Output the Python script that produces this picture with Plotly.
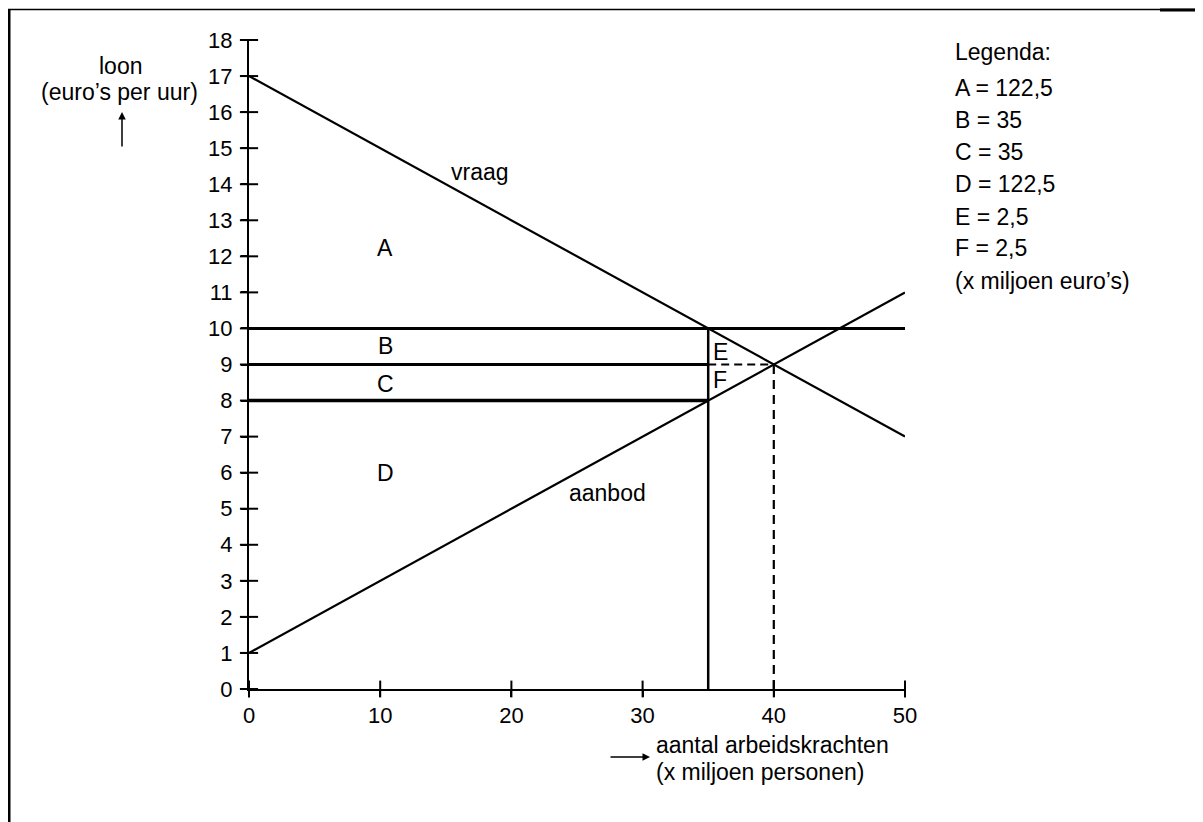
import plotly.graph_objects as go

# --- data ---
x_ticks = [0, 10, 20, 30, 40, 50]
y_ticks = list(range(0, 19))

vraag_x = [0, 50]
vraag_y = [17, 7]
aanbod_x = [0, 50]
aanbod_y = [1, 11]

# horizontal wage lines (solid)
loon10_x = [0, 50]
loon10_y = [10, 10]
loon9_x = [0, 35]
loon9_y = [9, 9]
loon8_x = [0, 35]
loon8_y = [8, 8]
# vertical at 35 (solid)
q35_x = [35, 35]
q35_y = [0, 10]
# equilibrium guide lines (dashed)
eq_h_x = [35, 40]
eq_h_y = [9, 9]
eq_v_x = [40, 40]
eq_v_y = [0, 9]

legend_names = ['A', 'B', 'C', 'D', 'E', 'F']
legend_values = [122.5, 35, 35, 122.5, 2.5, 2.5]

FONT = "Liberation Sans, Arial, sans-serif"
OFF = 8  # page body margin
W, H = 1203 - OFF, 822 - OFF
L, R, T, B = 249 - OFF, 298, 40 - OFF, 133
PW, PH = W - L - R, H - T - B


def px(xp):
    # screen pixel -> paper x
    return (xp - OFF - L) / PW


def py(yp):
    # screen pixel -> paper y
    return (H - B - (yp - OFF)) / PH


def fmt(v):
    return f"{v:g}".replace('.', ',')


fig = go.Figure()

line_style = dict(color='black', width=2.2)
fig.add_trace(go.Scatter(x=vraag_x, y=vraag_y, mode='lines', line=line_style, cliponaxis=False))
fig.add_trace(go.Scatter(x=aanbod_x, y=aanbod_y, mode='lines', line=line_style, cliponaxis=False))
fig.add_trace(go.Scatter(x=loon10_x, y=loon10_y, mode='lines', line=dict(color='black', width=3), cliponaxis=False))
fig.add_trace(go.Scatter(x=loon9_x, y=loon9_y, mode='lines', line=dict(color='black', width=3), cliponaxis=False))
fig.add_trace(go.Scatter(x=loon8_x, y=loon8_y, mode='lines', line=dict(color='black', width=3.5), cliponaxis=False))
fig.add_trace(go.Scatter(x=q35_x, y=q35_y, mode='lines', line=dict(color='black', width=2.5), cliponaxis=False))
fig.add_trace(go.Scatter(x=eq_h_x, y=eq_h_y, mode='lines', line=dict(color='black', width=2.2, dash='8px,5px'), cliponaxis=False))
fig.add_trace(go.Scatter(x=eq_v_x, y=eq_v_y, mode='lines', line=dict(color='black', width=2.2, dash='9px,6px'), cliponaxis=False))

# ticks crossing the axes
fig.add_trace(go.Scatter(
    x=[0] * len(y_ticks), y=y_ticks, mode='markers', cliponaxis=False,
    marker=dict(symbol='line-ew', size=13, line=dict(color='black', width=2))
))
fig.add_trace(go.Scatter(
    x=x_ticks, y=[0] * len(x_ticks), mode='markers', cliponaxis=False,
    marker=dict(symbol='line-ns', size=12, line=dict(color='black', width=2))
))

annotations = []
txt = dict(size=23, color='black', family=FONT)

# labels inside the chart
for text, x, y in [('vraag', 17.6, 14.35), ('aanbod', 27.3, 5.44),
                   ('A', 10.4, 12.24), ('B', 10.4, 9.52), ('C', 10.4, 8.47),
                   ('D', 10.4, 6.0), ('E', 35.9, 9.35), ('F', 35.9, 8.58)]:
    annotations.append(dict(x=x, y=y, xref='x', yref='y', text=text, showarrow=False,
                            font=txt, xanchor='center', yanchor='middle'))

# legend block
legend_lines = ['Legenda:'] + [f"{n} = {fmt(v)}" for n, v in zip(legend_names, legend_values)] + ['(x miljoen euro’s)']
legend_y = [52, 88, 120, 152, 184, 217, 248, 281]
for line, yp in zip(legend_lines, legend_y):
    annotations.append(dict(x=px(953), y=py(yp), xref='paper', yref='paper', text=line,
                            showarrow=False, font=txt, xanchor='left', yanchor='middle'))

# y-axis title
annotations.append(dict(x=px(120), y=py(66), xref='paper', yref='paper', text='loon',
                        showarrow=False, font=txt, xanchor='center', yanchor='middle'))
annotations.append(dict(x=px(119), y=py(92), xref='paper', yref='paper', text='(euro’s per uur)',
                        showarrow=False, font=txt, xanchor='center', yanchor='middle'))
annotations.append(dict(x=px(122), y=py(112), xref='paper', yref='paper', text='',
                        showarrow=True, ax=0, ay=36, arrowhead=2, arrowsize=1, arrowwidth=1.5,
                        arrowcolor='black'))

# x-axis title
annotations.append(dict(x=px(654), y=py(745), xref='paper', yref='paper', text='aantal arbeidskrachten',
                        showarrow=False, font=txt, xanchor='left', yanchor='middle'))
annotations.append(dict(x=px(654), y=py(772), xref='paper', yref='paper', text='(x miljoen personen)',
                        showarrow=False, font=txt, xanchor='left', yanchor='middle'))
annotations.append(dict(x=px(650), y=py(757), xref='paper', yref='paper', text='',
                        showarrow=True, ax=-41, ay=0, arrowhead=2, arrowsize=1, arrowwidth=1.5,
                        arrowcolor='black'))

# page frame
shapes = [
    dict(type='line', xref='paper', yref='paper', x0=px(8), x1=px(1203), y0=py(9.5), y1=py(9.5),
         line=dict(color='black', width=1.5)),
    dict(type='line', xref='paper', yref='paper', x0=px(1160), x1=px(1203), y0=py(10), y1=py(10),
         line=dict(color='black', width=3)),
    dict(type='line', xref='paper', yref='paper', x0=px(9), x1=px(9), y0=py(9), y1=py(822),
         line=dict(color='black', width=3)),
]

axis_common = dict(showgrid=False, zeroline=False, showline=True, linecolor='black', linewidth=2,
                   ticks='outside', ticklen=6, tickwidth=2, tickcolor='black',
                   tickfont=dict(size=22, color='black', family=FONT), fixedrange=True)

fig.update_layout(
    width=W, height=H, autosize=False,
    margin=dict(l=L, r=R, t=T, b=B),
    plot_bgcolor='white', paper_bgcolor='white',
    showlegend=False,
    xaxis=dict(range=[0, 50], tickvals=x_ticks, ticklabelstandoff=0, **axis_common),
    yaxis=dict(range=[0, 18], tickvals=y_ticks, ticklabelstandoff=4, **axis_common),
    annotations=annotations,
    shapes=shapes,
    hovermode=False,
)

fig.write_html("out.html", config={'displayModeBar': False})
